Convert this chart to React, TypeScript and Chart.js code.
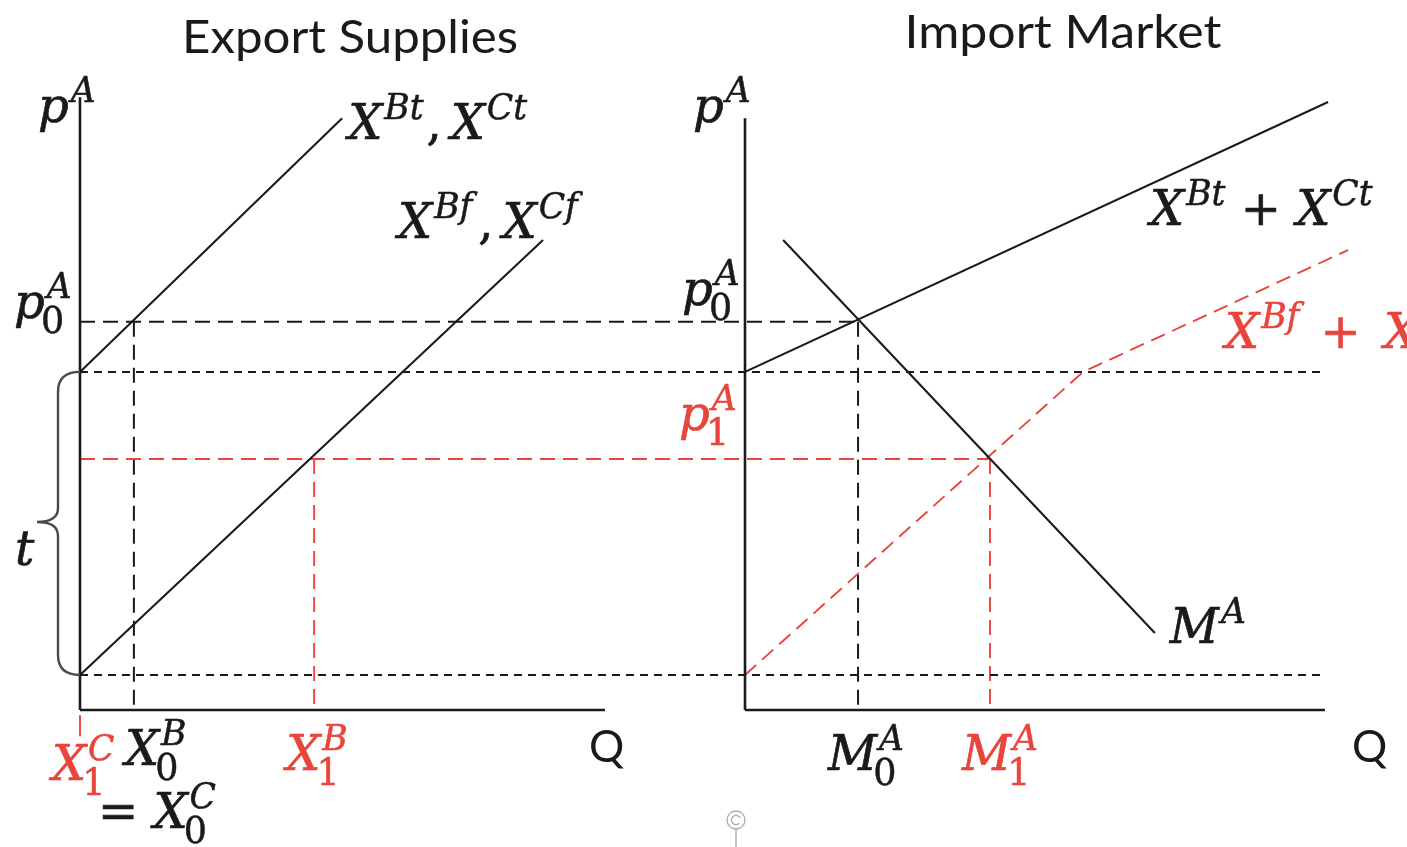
import React, { useEffect, useRef } from "react";
import { Chart, registerables } from "chart.js";

Chart.register(...registerables);

// ---------- page / layout ----------
const WIDTH = 1407;
const HEIGHT = 847;
const UNIT_PX = 35; // pixels per price / quantity unit
const ORIGIN_Y_PX = 710; // where price 0 sits
const LEFT_ORIGIN_PX = 80; // left panel Q = 0
const RIGHT_ORIGIN_PX = 745; // right panel Q = 0
const LQ = LEFT_ORIGIN_PX / UNIT_PX;
const RQ = RIGHT_ORIGIN_PX / UNIT_PX;

// ---------- data ----------
// price levels p^A
const P0 = 11.09; // p0^A, equilibrium with tariff-inclusive supplies
const P1 = 7.17; // p1^A, equilibrium after FTA
const P_TAX_FLOOR = 9.66; // intercept of tariff-inclusive supplies
const P_FREE_FLOOR = 1.0; // intercept of tariff-free supplies

// quantities
const X0_B = 1.54;
const X1_B = 6.69;
const X1_C = 0;
const M0_A = 3.23;
const M1_A = 7.0;

// Export Supplies panel curves
const EXPORT_TAXED_Q = [0, 7.49];
const EXPORT_TAXED_P = [9.66, 16.91];
const EXPORT_FREE_Q = [0, 13.23];
const EXPORT_FREE_P = [1.0, 13.43];

// Import Market panel curves
const IMPORT_TAXED_Q = [0, 16.66];
const IMPORT_TAXED_P = [9.66, 17.37];
const IMPORT_FREE_Q = [0, 9.66, 17.23];
const IMPORT_FREE_P = [1.0, 9.66, 13.14];
const DEMAND_Q = [1.09, 11.71];
const DEMAND_P = [13.43, 2.2];

// axis extents
const LEFT_AXIS_Q_MAX = 15.0;
const LEFT_AXIS_P_MAX = 17.51;
const RIGHT_AXIS_Q_MAX = 16.57;
const RIGHT_AXIS_P_MAX = 16.91;

// text
const TITLES = ["Export Supplies", "Import Market"];
const AXIS_Q_LABEL = "Q";

// ---------- styles ----------
const BLACK = "#1a1a1a";
const RED = "#e8453c";
const SERIF = '"DejaVu Serif", serif';
const SANS = 'Lato, "Open Sans", sans-serif';
const LONG_DASH = [15, 8];
const SHORT_DASH = [8, 6];

type Pt = { x: number; y: number };
const pts = (qs: number[], ps: number[], off: number): Pt[] =>
  qs.map((q, i) => ({ x: off + q, y: ps[i] }));

const ds = (data: Pt[], color: string, width: number, dash: number[] = []) => ({
  data,
  borderColor: color,
  borderWidth: width,
  borderDash: dash,
  pointRadius: 0,
  pointHoverRadius: 0,
  fill: false,
  tension: 0,
  clip: false as any,
  borderCapStyle: "butt" as const,
});

type Tok = { b: string; sup?: string; sub?: string; up?: boolean; after?: number };

function txt(ctx: CanvasRenderingContext2D, s: string, x: number, y: number, bold: number) {
  ctx.fillText(s, x, y);
  if (bold > 0) {
    ctx.lineWidth = bold;
    ctx.strokeText(s, x, y);
  }
}

function drawMath(
  ctx: CanvasRenderingContext2D,
  x: number,
  y: number,
  toks: Tok[],
  size: number,
  color: string
) {
  ctx.save();
  ctx.fillStyle = color;
  ctx.strokeStyle = color;
  ctx.lineJoin = "round";
  ctx.textAlign = "left";
  ctx.textBaseline = "alphabetic";
  const ss = size * 0.72;
  let cx = x;
  for (const t of toks) {
    ctx.font = `${t.up ? "" : "italic "}${size}px ${SERIF}`;
    txt(ctx, t.b, cx, y, 0.7);
    cx += ctx.measureText(t.b).width;
    let adv = 0;
    if (t.sup) {
      ctx.font = `italic ${ss}px ${SERIF}`;
      txt(ctx, t.sup, cx + size * 0.04, y - size * 0.42, 0.5);
      adv = Math.max(adv, ctx.measureText(t.sup).width + size * 0.04);
    }
    if (t.sub) {
      ctx.font = `${size * 0.76}px ${SERIF}`;
      txt(ctx, t.sub, cx - size * 0.08, y + size * 0.31, 0.5);
      adv = Math.max(adv, ctx.measureText(t.sub).width - size * 0.08);
    }
    cx += adv + (t.after || 0);
  }
  ctx.restore();
}

function fitText(
  ctx: CanvasRenderingContext2D,
  text: string,
  cx: number,
  y: number,
  size: number,
  width: number,
  font: string,
  color: string
) {
  ctx.save();
  ctx.font = `${size}px ${font}`;
  ctx.fillStyle = color;
  ctx.textBaseline = "alphabetic";
  const w = ctx.measureText(text).width;
  const s = width / w;
  ctx.translate(cx - width / 2, y);
  ctx.scale(s, 1);
  ctx.fillText(text, 0, 0);
  ctx.restore();
}

const labelsPlugin = {
  id: "econLabels",
  afterDatasetsDraw(chart: any) {
    const ctx: CanvasRenderingContext2D = chart.ctx;
    const xs = chart.scales.x;
    const ys = chart.scales.y;
    const lx = (q: number) => xs.getPixelForValue(LQ + q);
    const rx = (q: number) => xs.getPixelForValue(RQ + q);
    const py = (p: number) => ys.getPixelForValue(p);
    const S = 48;

    // titles
    fitText(ctx, TITLES[0], 350, 53, 46, 336, SANS, BLACK);
    fitText(ctx, TITLES[1], 1063, 48, 46, 317, SANS, BLACK);

    // brace for tariff t
    const bx = lx(0);
    const y1 = py(P_TAX_FLOOR);
    const y2 = py(P_FREE_FLOOR);
    const xv = bx - 22;
    const xt = bx - 43;
    const yt = y1 + (y2 - y1) * 0.495;
    ctx.save();
    ctx.strokeStyle = "#4a4a4a";
    ctx.lineWidth = 2.4;
    ctx.beginPath();
    ctx.moveTo(bx, y1);
    ctx.quadraticCurveTo(xv, y1, xv, y1 + 20);
    ctx.lineTo(xv, yt - 14);
    ctx.quadraticCurveTo(xv, yt, xt, yt);
    ctx.quadraticCurveTo(xv, yt, xv, yt + 14);
    ctx.lineTo(xv, y2 - 20);
    ctx.quadraticCurveTo(xv, y2, bx, y2);
    ctx.stroke();
    ctx.restore();
    drawMath(ctx, bx - 65, yt + 43, [{ b: "t" }], S, BLACK);

    // left panel labels
    drawMath(ctx, lx(0) - 42, py(LEFT_AXIS_P_MAX) + 25, [{ b: "p", sup: "A" }], S, BLACK);
    drawMath(ctx, lx(0) - 66, py(P0) - 4, [{ b: "p", sup: "A", sub: "0" }], S, BLACK);
    const etEnd = EXPORT_TAXED_Q.length - 1;
    drawMath(
      ctx,
      lx(EXPORT_TAXED_Q[etEnd]) + 6,
      py(EXPORT_TAXED_P[etEnd]) + 21,
      [{ b: "X", sup: "Bt", after: 3 }, { b: ",", up: true, after: 9 }, { b: "X", sup: "Ct" }],
      S,
      BLACK
    );
    const efEnd = EXPORT_FREE_Q.length - 1;
    drawMath(
      ctx,
      lx(EXPORT_FREE_Q[efEnd]) - 145,
      py(EXPORT_FREE_P[efEnd]) - 2,
      [{ b: "X", sup: "Bf", after: 6 }, { b: ",", up: true, after: 9 }, { b: "X", sup: "Cf" }],
      S,
      BLACK
    );
    drawMath(ctx, lx(X1_C) - 28, py(0) + 70, [{ b: "X", sup: "C", sub: "1" }], S, RED);
    drawMath(ctx, lx(X0_B) - 9, py(0) + 55, [{ b: "X", sup: "B", sub: "0" }], S, BLACK);
    drawMath(ctx, lx(X0_B) - 36, py(0) + 118, [{ b: "= ", up: true }, { b: "X", sup: "C", sub: "0" }], S, BLACK);
    drawMath(ctx, lx(X1_B) - 28, py(0) + 60, [{ b: "X", sup: "B", sub: "1" }], S, RED);

    ctx.save();
    ctx.fillStyle = BLACK;
    ctx.font = `44px ${SANS}`;
    ctx.fillText(AXIS_Q_LABEL, lx(LEFT_AXIS_Q_MAX) - 16, py(0) + 52);
    ctx.fillText(AXIS_Q_LABEL, rx(RIGHT_AXIS_Q_MAX) + 27, py(0) + 52);
    ctx.restore();

    // right panel labels
    drawMath(ctx, rx(0) - 52, py(RIGHT_AXIS_P_MAX) + 4, [{ b: "p", sup: "A" }], S, BLACK);
    drawMath(ctx, rx(0) - 63, py(P0) - 17, [{ b: "p", sup: "A", sub: "0" }], S, BLACK);
    drawMath(ctx, rx(0) - 66, py(P1) - 29, [{ b: "p", sup: "A", sub: "1" }], S, RED);
    const itEnd = IMPORT_TAXED_Q.length - 1;
    drawMath(
      ctx,
      rx(IMPORT_TAXED_Q[itEnd]) - 178,
      py(IMPORT_TAXED_P[itEnd]) + 123,
      [{ b: "X", sup: "Bt" }, { b: " + ", up: true }, { b: "X", sup: "Ct" }],
      S,
      BLACK
    );
    const ifEnd = IMPORT_FREE_Q.length - 1;
    drawMath(
      ctx,
      rx(IMPORT_FREE_Q[ifEnd]) - 123,
      py(IMPORT_FREE_P[ifEnd]) + 98,
      [{ b: "X", sup: "Bf", after: 6 }, { b: " + ", up: true, after: 8 }, { b: "X", sup: "Cf" }],
      S,
      RED
    );
    const dEnd = DEMAND_Q.length - 1;
    drawMath(ctx, rx(DEMAND_Q[dEnd]) + 15, py(DEMAND_P[dEnd]) + 10, [{ b: "M", sup: "A" }], S, BLACK);
    drawMath(ctx, rx(M0_A) - 30, py(0) + 60, [{ b: "M", sup: "A", sub: "0" }], S, BLACK);
    drawMath(ctx, rx(M1_A) - 28, py(0) + 60, [{ b: "M", sup: "A", sub: "1" }], S, RED);

    // small widget icon under the figure
    ctx.save();
    ctx.strokeStyle = "#a8a8a8";
    ctx.lineWidth = 1.3;
    ctx.beginPath();
    ctx.arc(736, 820, 9, 0, Math.PI * 2);
    ctx.stroke();
    ctx.beginPath();
    ctx.arc(736, 820, 4.5, Math.PI * 0.25, Math.PI * 1.85);
    ctx.stroke();
    ctx.beginPath();
    ctx.moveTo(736, 829);
    ctx.lineTo(736, 847);
    ctx.stroke();
    ctx.restore();
  },
};

export default function App() {
  const ref = useRef<HTMLCanvasElement>(null);
  useEffect(() => {
    const canvas = ref.current;
    if (!canvas) return;

    const datasets = [
      // axes
      ds(pts([0, 0], [0, LEFT_AXIS_P_MAX], LQ), BLACK, 2.6),
      ds(pts([0, LEFT_AXIS_Q_MAX], [0, 0], LQ), BLACK, 2.6),
      ds(pts([0, 0], [0, RIGHT_AXIS_P_MAX], RQ), BLACK, 2.6),
      ds(pts([0, RIGHT_AXIS_Q_MAX], [0, 0], RQ), BLACK, 2.6),
      // supply / demand curves
      ds(pts(EXPORT_TAXED_Q, EXPORT_TAXED_P, LQ), BLACK, 2.1),
      ds(pts(EXPORT_FREE_Q, EXPORT_FREE_P, LQ), BLACK, 2.1),
      ds(pts(IMPORT_TAXED_Q, IMPORT_TAXED_P, RQ), BLACK, 2.1),
      ds(pts(DEMAND_Q, DEMAND_P, RQ), BLACK, 2.1),
      ds(pts(IMPORT_FREE_Q, IMPORT_FREE_P, RQ), RED, 1.9, LONG_DASH),
      // horizontal guides
      ds([{ x: LQ, y: P0 }, { x: RQ + M0_A, y: P0 }], BLACK, 2.0, LONG_DASH),
      ds([{ x: LQ, y: P_TAX_FLOOR }, { x: RQ + RIGHT_AXIS_Q_MAX, y: P_TAX_FLOOR }], BLACK, 2.0, SHORT_DASH),
      ds([{ x: LQ, y: P_FREE_FLOOR }, { x: RQ + RIGHT_AXIS_Q_MAX, y: P_FREE_FLOOR }], BLACK, 2.0, SHORT_DASH),
      ds([{ x: LQ, y: P1 }, { x: RQ + M1_A, y: P1 }], RED, 1.9, LONG_DASH),
      // vertical guides
      ds([{ x: LQ + X0_B, y: P0 }, { x: LQ + X0_B, y: 0 }], BLACK, 2.0, LONG_DASH),
      ds([{ x: LQ + X1_B, y: P1 }, { x: LQ + X1_B, y: 0 }], RED, 1.9, LONG_DASH),
      ds([{ x: LQ + X1_C, y: -0.15 }, { x: LQ + X1_C, y: -0.75 }], RED, 1.9),
      ds([{ x: RQ + M0_A, y: P0 }, { x: RQ + M0_A, y: 0 }], BLACK, 2.0, LONG_DASH),
      ds([{ x: RQ + M1_A, y: P1 }, { x: RQ + M1_A, y: 0 }], RED, 1.9, LONG_DASH),
    ];

    const chart = new Chart(canvas, {
      type: "line",
      data: { datasets } as any,
      options: {
        animation: false,
        responsive: false,
        events: [],
        layout: { padding: 0 },
        plugins: {
          legend: { display: false },
          tooltip: { enabled: false },
          title: { display: false },
        },
        scales: {
          x: { type: "linear", display: false, min: 0, max: WIDTH / UNIT_PX },
          y: {
            type: "linear",
            display: false,
            min: -(HEIGHT - ORIGIN_Y_PX) / UNIT_PX,
            max: ORIGIN_Y_PX / UNIT_PX,
          },
        },
      } as any,
      plugins: [labelsPlugin],
    });
    return () => chart.destroy();
  }, []);

  return (
    <canvas
      ref={ref}
      width={WIDTH}
      height={HEIGHT}
      style={{ position: "fixed", left: 0, top: 0, background: "#fff" }}
    />
  );
}
